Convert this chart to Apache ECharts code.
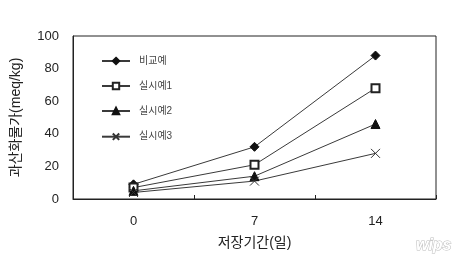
<!DOCTYPE html>
<html><head><meta charset="utf-8">
<script src="https://cdn.jsdelivr.net/npm/echarts@6/dist/echarts.min.js"></script>
<style>html,body{margin:0;padding:0;background:#fff}#c{width:460px;height:260px}</style>
</head><body><div id="c"></div>
<script>
const categories = ['0', '7', '14'];
const seriesNames = ['비교예', '실시예1', '실시예2', '실시예3'];
const compare = [9, 32, 88];
const ex1 = [7, 21, 68];
const ex2 = [5, 14, 46];
const ex3 = [4, 11, 28];
const yTicks = [0, 20, 40, 60, 80, 100];

const FONT = '"Liberation Sans", Arial, "Noto Sans CJK KR", sans-serif';
const lineC = '#3a3a3a';
const chart = echarts.init(document.getElementById('c'));
function mk(name, data, symbol, size, extra) {
  return Object.assign({
    name, type: 'line', data, symbol, symbolSize: size,
    showAllSymbol: true,
    lineStyle: { color: lineC, width: 1 },
    itemStyle: { color: '#111', borderColor: '#111', borderWidth: 1 },
    emphasis: { disabled: true },
    animation: false
  }, extra || {});
}
chart.setOption({
  backgroundColor: '#fff',
  textStyle: { fontFamily: FONT },
  grid: { left: 73, right: 24, top: 36, bottom: 61, show: true, borderColor: '#222', borderWidth: 1 },
  legend: {
    orient: 'vertical', left: 96, top: 51, itemWidth: 28, itemHeight: 8, itemGap: 15,
    textStyle: { fontSize: 10, color: '#444', fontFamily: FONT, padding: [0, 0, 0, 4] },
    data: seriesNames
  },
  xAxis: {
    type: 'category', data: categories, boundaryGap: true,
    axisLine: { lineStyle: { color: '#222', width: 1 } },
    axisTick: { show: true, inside: true, length: 4, lineStyle: { color: '#222' } },
    axisLabel: { fontSize: 13, color: '#222', margin: 16, fontFamily: FONT },
    name: '저장기간(일)', nameLocation: 'middle', nameGap: 37,
    nameTextStyle: { fontSize: 14, color: '#222', fontFamily: FONT }
  },
  yAxis: {
    type: 'value', min: yTicks[0], max: yTicks[yTicks.length - 1], interval: 20,
    splitLine: { show: false },
    axisLine: { show: true, lineStyle: { color: '#222' } },
    axisTick: { show: false },
    axisLabel: { fontSize: 13, color: '#222', margin: 14, fontFamily: FONT },
    name: '과산화물가(meq/kg)', nameLocation: 'middle', nameGap: 50,
    nameTextStyle: { fontSize: 14, color: '#222', fontFamily: FONT }
  },
  graphic: [{
    type: 'text', right: 8, bottom: 6,
    style: { text: 'wips', fontSize: 16, fontStyle: 'italic', fontWeight: 'bold',
      fill: '#fff', stroke: '#bbb', lineWidth: 1, fontFamily: FONT }
  }],
  series: [
    mk(seriesNames[0], compare, 'diamond', 9),
    mk(seriesNames[1], ex1, 'emptyRect', 8, { itemStyle: { color: '#222', borderColor: '#222', borderWidth: 1 } }),
    mk(seriesNames[2], ex2, 'triangle', 9),
    mk(seriesNames[3], ex3, 'path://M0,0 L10,10 M10,0 L0,10', 9,
      { itemStyle: { color: 'none', borderColor: '#333', borderWidth: 1 } })
  ]
});
</script></body></html>
